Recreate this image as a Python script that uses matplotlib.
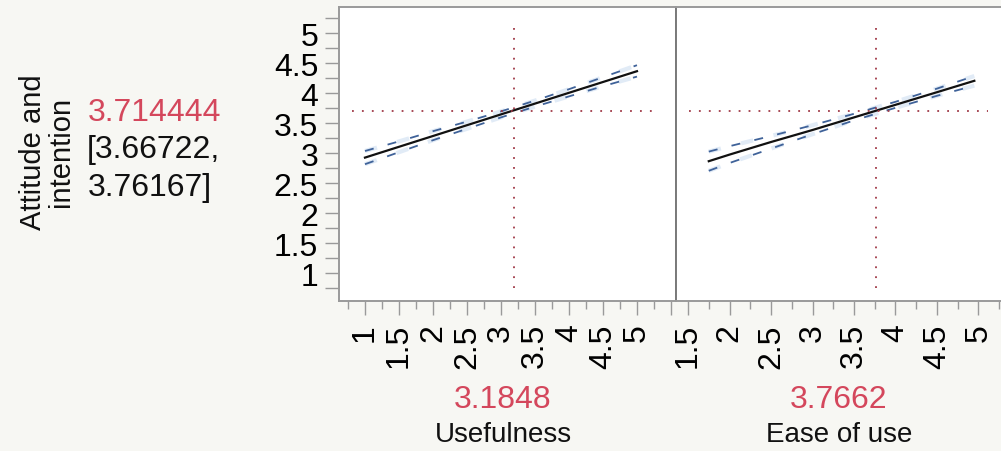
import matplotlib
matplotlib.use("Agg")
import matplotlib.pyplot as plt
from matplotlib.ticker import MultipleLocator, FuncFormatter

plt.rcParams['font.family'] = ['Liberation Sans', 'DejaVu Sans']

# response at the current settings
response_name = "Attitude and\nintention"
response_value = 3.714444
response_ci = [3.66722, 3.76167]

# factor names and current settings
factors = ["Usefulness", "Ease of use"]
factor_values = [3.1848, 3.7662]

# profile traces (prediction and confidence band)
usefulness_x = [1, 1.5, 2, 2.5, 3, 3.5, 4, 4.5, 5]
usefulness_fit = [2.93, 3.11, 3.29, 3.47, 3.65, 3.83, 4.01, 4.19, 4.37]
usefulness_lower = [2.82, 3.02, 3.22, 3.41, 3.60, 3.78, 3.95, 4.12, 4.28]
usefulness_upper = [3.04, 3.20, 3.37, 3.53, 3.70, 3.88, 4.07, 4.27, 4.47]

ease_x = [1.75, 2, 2.5, 3, 3.5, 4, 4.5, 4.95]
ease_fit = [2.87, 2.98, 3.19, 3.39, 3.60, 3.81, 4.02, 4.21]
ease_lower = [2.71, 2.84, 3.08, 3.32, 3.55, 3.76, 3.96, 4.13]
ease_upper = [3.03, 3.12, 3.29, 3.47, 3.66, 3.86, 4.08, 4.29]

x_limits = [(0.618, 5.574), (1.355, 5.404)]
y_limits = (0.54, 5.44)
# last labelled tick on each x axis (5.5 on the left one runs into the next panel)
x_label_max = [5.0, 5.0]

RED = "#d4475c"
DOT = "#a03a48"
BAND = "#3f6299"
SPINE = "#9a9a9a"

W, H = 1001, 452
fig = plt.figure(figsize=(W / 100, H / 100), dpi=100)
fig.patch.set_facecolor("#f7f7f3")


def px_box(x0, y0, x1, y1):
    return [x0 / W, 1 - y1 / H, (x1 - x0) / W, (y1 - y0) / H]


ax1 = fig.add_axes(px_box(339, 8, 676, 302))
ax2 = fig.add_axes(px_box(676, 8, 1012, 302))

traces = [
    (usefulness_x, usefulness_fit, usefulness_lower, usefulness_upper),
    (ease_x, ease_fit, ease_lower, ease_upper),
]

yfmt = FuncFormatter(lambda v, p: f"{v:g}")
label_centers = [503, 839]

for i, ax in enumerate([ax1, ax2]):
    xs, fit, lo, hi = traces[i]
    ax.set_facecolor("white")
    ax.set_xlim(*x_limits[i])
    ax.set_ylim(*y_limits)

    # confidence band
    for band in (lo, hi):
        ax.plot(xs, band, color="#a9c6e8", lw=3.0, alpha=0.35,
                linestyle=(0, (3, 5)), solid_capstyle="butt")
        ax.plot(xs, band, color=BAND, lw=1.3, linestyle=(0, (5, 8)))
    ax.plot(xs, fit, color="#111111", lw=1.6)

    # crosshair at the current settings
    ax.axhline(response_value, xmin=0.04, xmax=0.93, color=DOT, lw=1.3,
               linestyle=(0, (1, 4.5)))
    ax.axvline(factor_values[i], ymin=0.045, ymax=0.93, color=DOT, lw=1.3,
               linestyle=(0, (1, 4.5)))

    for side in ["top", "bottom", "left", "right"]:
        ax.spines[side].set_color(SPINE)
        ax.spines[side].set_linewidth(1.4)

    xmax_lbl = x_label_max[i]
    ax.xaxis.set_major_locator(MultipleLocator(0.5))
    ax.xaxis.set_minor_locator(MultipleLocator(0.25))
    ax.xaxis.set_major_formatter(
        FuncFormatter(lambda v, p, m=xmax_lbl: f"{v:g}" if v <= m + 1e-9 else ""))
    ax.yaxis.set_major_locator(MultipleLocator(0.5))
    ax.yaxis.set_minor_locator(MultipleLocator(0.25))
    ax.yaxis.set_major_formatter(yfmt)
    ax.tick_params(axis="x", which="major", length=10, width=1, color=SPINE,
                   labelsize=23, labelrotation=90, pad=6)
    ax.tick_params(axis="x", which="minor", length=6, width=1, color=SPINE)
    ax.tick_params(axis="y", which="both", length=10, width=1, color=SPINE,
                   labelsize=23, pad=5)
    for lbl in ax.get_xticklabels():
        lbl.set_verticalalignment("top")

    # current factor value and name under each panel
    cx = label_centers[i] / W
    fig.text(cx, 1 - 400 / H, f"{factor_values[i]}", color=RED, fontsize=23,
             ha="center", va="center")
    fig.text(cx, 1 - 435 / H, factors[i], color="#111111", fontsize=20,
             ha="center", va="center")

ax2.spines["left"].set_color("#7a7a7a")
ax2.tick_params(axis="y", which="both", left=False, labelleft=False)

# response label and prediction
fig.text(47 / W, 1 - 152 / H, response_name, rotation=90, fontsize=21,
         ha="center", va="center", linespacing=1.0, color="#111111")
fig.text(88 / W, 1 - 113 / H, f"{response_value}", color=RED, fontsize=23,
         ha="left", va="center")
fig.text(87 / W, 1 - 150 / H, f"[{response_ci[0]},", color="#111111",
         fontsize=23, ha="left", va="center")
fig.text(88 / W, 1 - 188 / H, f"{response_ci[1]}]", color="#111111",
         fontsize=23, ha="left", va="center")

fig.savefig("out.png", dpi=100, facecolor=fig.get_facecolor())
